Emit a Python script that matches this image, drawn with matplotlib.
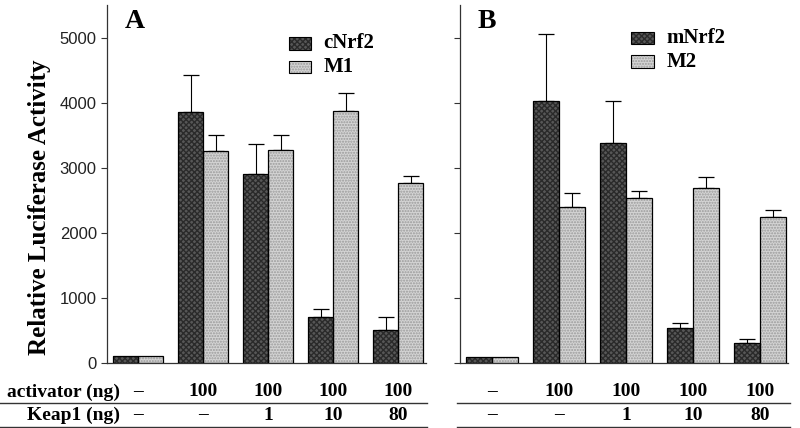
"""Luciferase reporter assay: Nrf2 activators vs. Keap1 dose (panels A and B)."""

import matplotlib

matplotlib.use("Agg")
import matplotlib.pyplot as plt
import matplotlib.transforms as mtransforms
from matplotlib.lines import Line2D
import numpy as np

SERIF = "Liberation Serif"
SANS = "Liberation Sans"

activator_ng = ["–", "100", "100", "100", "100"]
keap1_ng = ["–", "–", "1", "10", "80"]

# panel A
cnrf2 = [100, 3850, 2910, 700, 510]
cnrf2_err = [0, 580, 460, 130, 200]
m1 = [100, 3260, 3280, 3880, 2760]
m1_err = [0, 240, 230, 270, 110]

# panel B
mnrf2 = [90, 4020, 3380, 540, 310]
mnrf2_err = [0, 1030, 640, 80, 60]
m2 = [90, 2400, 2540, 2690, 2250]
m2_err = [0, 210, 100, 170, 100]

DARK = "#575757"
LIGHT = "#d4d4d4"
BAR_W = 0.385


def hatched_bar(ax, x, h, face, hatch, hatch_col):
    ax.bar(x, h, BAR_W, color=face, edgecolor=hatch_col, hatch=hatch, linewidth=0, zorder=2)
    ax.bar(x, h, BAR_W, fill=False, edgecolor="black", linewidth=0.9, zorder=3)


def draw_panel(ax, dark, dark_err, light, light_err, names, letter, legend_xy):
    x = np.arange(len(dark))
    hatched_bar(ax, x - BAR_W / 2, dark, DARK, "xxxxxx", "#2a2a2a")
    hatched_bar(ax, x + BAR_W / 2, light, LIGHT, "......", "#9a9a9a")
    for xs, ys, es in ((x - BAR_W / 2, dark, dark_err), (x + BAR_W / 2, light, light_err)):
        ys = np.asarray(ys)
        es = np.asarray(es)
        keep = es > 0
        ax.errorbar(xs[keep], ys[keep], yerr=[np.zeros(keep.sum()), es[keep]],
                    fmt="none", ecolor="black", elinewidth=0.8, capsize=5.5,
                    capthick=0.9, zorder=1)

    ax.set_xlim(-0.48, 4.42)
    ax.set_ylim(0, 5500)
    ax.set_yticks([0, 1000, 2000, 3000, 4000, 5000])
    ax.set_xticks([])
    for side in ("top", "right"):
        ax.spines[side].set_visible(False)
    for side in ("left", "bottom"):
        ax.spines[side].set_linewidth(0.9)
        ax.spines[side].set_color("#333333")
    ax.tick_params(axis="y", direction="out", length=4, width=0.8, colors="#333333")

    ax.text(0.055, 0.99, letter, transform=ax.transAxes, ha="left", va="top",
            fontsize=20, fontweight="bold", family=SERIF)

    lx, ly = legend_xy
    for i, (name, face, hatch, hc) in enumerate(
        ((names[0], DARK, "xxxxxx", "#2a2a2a"), (names[1], LIGHT, "......", "#9a9a9a"))
    ):
        y0 = ly - i * 0.066
        box = plt.Rectangle((lx, y0), 0.07, 0.036, transform=ax.transAxes,
                            facecolor=face, edgecolor=hc, hatch=hatch, linewidth=0,
                            clip_on=False)
        ax.add_patch(box)
        ax.add_patch(plt.Rectangle((lx, y0), 0.07, 0.036, transform=ax.transAxes,
                                   fill=False, edgecolor="black", linewidth=0.8,
                                   clip_on=False))
        ax.text(lx + 0.11, y0 + 0.018, name, transform=ax.transAxes, ha="left",
                va="center", fontsize=15, fontweight="bold", family=SERIF)


fig = plt.figure(figsize=(8.0, 4.28), dpi=100)
ax_a = fig.add_axes([0.134, 0.152, 0.398, 0.836])
ax_b = fig.add_axes([0.575, 0.152, 0.410, 0.836])

draw_panel(ax_a, cnrf2, cnrf2_err, m1, m1_err, ("cNrf2", "M1"), "A", (0.57, 0.875))
draw_panel(ax_b, mnrf2, mnrf2_err, m2, m2_err, ("mNrf2", "M2"), "B", (0.52, 0.89))

for lab in ax_a.get_yticklabels():
    lab.set_fontfamily(SANS)
    lab.set_fontsize(12)
    lab.set_color("#222222")
ax_b.set_yticklabels([])

fig.text(0.05, 0.515, "Relative Luciferase Activity", rotation=90, ha="center",
         va="center", fontsize=18, fontweight="bold", family=SERIF)

# condition table under the bars
row_y = (428 - 392) / 428, (428 - 415) / 428
fig.text(120 / 800, row_y[0], "activator (ng)", ha="right", va="center",
         fontsize=14, fontweight="bold", family=SERIF)
fig.text(120 / 800, row_y[1], "Keap1 (ng)", ha="right", va="center",
         fontsize=14, fontweight="bold", family=SERIF)
for ax in (ax_a, ax_b):
    trans = mtransforms.blended_transform_factory(ax.transData, fig.transFigure)
    for i, (act, kp) in enumerate(zip(activator_ng, keap1_ng)):
        ax.text(i, row_y[0], act, transform=trans, ha="center", va="center",
                fontsize=14, fontweight="bold", family=SERIF, clip_on=False)
        ax.text(i, row_y[1], kp, transform=trans, ha="center", va="center",
                fontsize=14, fontweight="bold", family=SERIF, clip_on=False)

for x0, x1 in ((0 / 800, 427 / 800), (457 / 800, 790 / 800)):
    for yy in ((428 - 403) / 428, (428 - 426.5) / 428):
        fig.add_artist(Line2D([x0, x1], [yy, yy], transform=fig.transFigure,
                              color="#333333", linewidth=1.0))

fig.savefig("out.png", dpi=100, facecolor="white")
